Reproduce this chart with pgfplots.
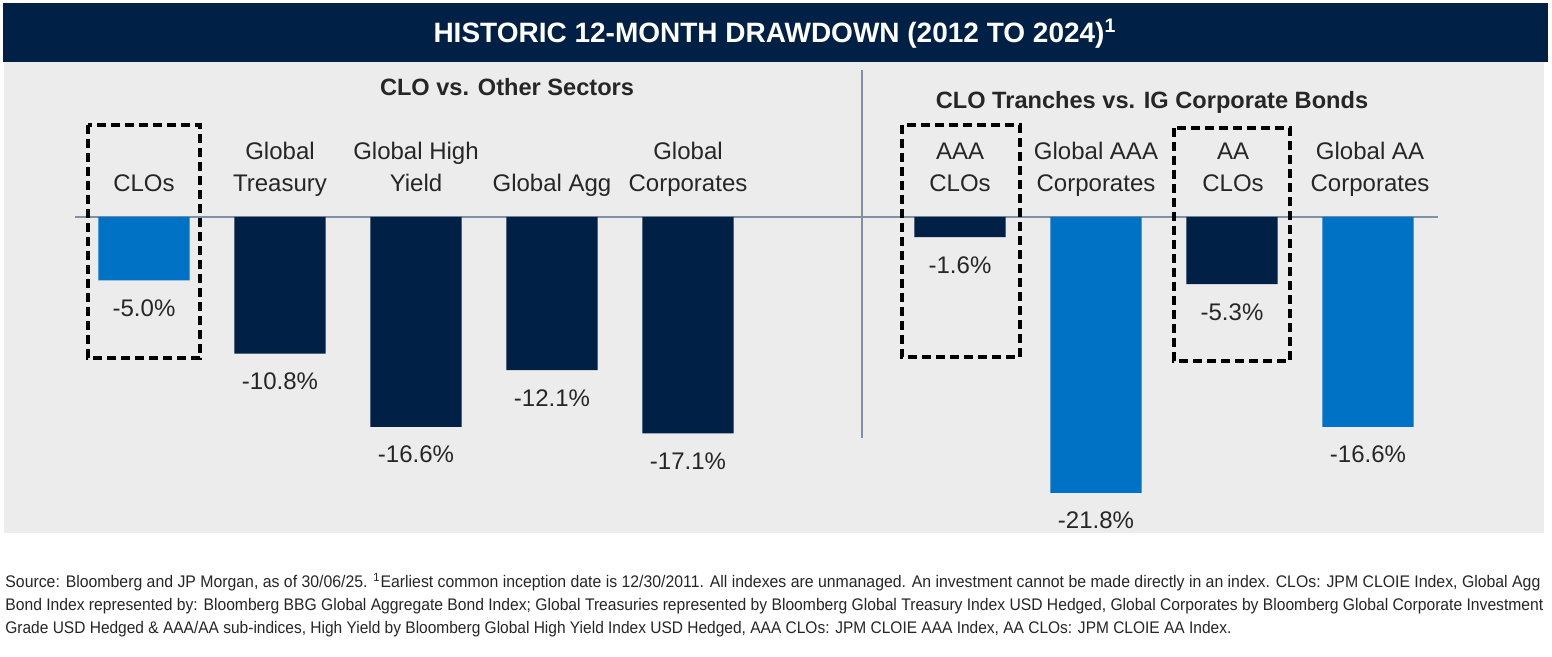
\documentclass[border=0pt]{standalone}
\usepackage{fontspec}
\setmainfont{Liberation Sans}
\usepackage{graphicx}
\usepackage{pgfplots}
\pgfplotsset{compat=1.18}
\definecolor{navy}{RGB}{0,32,70}
\definecolor{clo}{RGB}{0,114,198}
\definecolor{panel}{RGB}{236,236,236}
\definecolor{rulegray}{RGB}{128,145,166}
\definecolor{ink}{RGB}{38,38,38}

\begin{document}
\begin{tikzpicture}
% background, banner, rules (pixel coordinates, origin top left)
\begin{scope}[x=0.5pt,y=-0.5pt]
  \fill[white] (0,0) rectangle (1552,657);
  \fill[panel] (4,62) rectangle (1544,533);
  \fill[navy] (3,3) rectangle (1548,62);
  \draw[rulegray, line width=1.3pt] (862,70) -- (862,438);
  \draw[rulegray, line width=1.3pt] (75,217) -- (1438,217);
\end{scope}

\begin{axis}[
    at={(72pt,-108.5pt)}, anchor=origin,
    x=68pt, y=6.325pt,
    xmin=-0.6, xmax=9.6, ymin=-23, ymax=1,
    hide axis, clip=false,
    ybar, bar width=0.67,
    /pgf/number format/assume math mode=true,
    nodes near coords={\pgfmathprintnumber[fixed,fixed zerofill,precision=1]{\pgfplotspointmeta}\%},
    every node near coord/.append style={anchor=base, yshift=-18pt,
        font=\fontsize{12}{14}\selectfont, text=ink},
  ]
  \addplot[fill=navy, draw=none, bar shift=0pt] coordinates {
    (1,-10.8) (2,-16.6) (3,-12.1) (4,-17.1) (6,-1.6) (8,-5.3)};
  \addplot[fill=clo, draw=none, bar shift=0pt] coordinates {
    (0,-5.0) (7,-21.8) (9,-16.6)};
\end{axis}

\begin{scope}[x=0.5pt,y=-0.5pt]
  % highlight boxes
  \begin{scope}[line width=2pt, dash pattern=on 4.5pt off 2.5pt, black]
    \draw (88,125) rectangle (200,358);
    \draw (902,125) rectangle (1020,357);
    \draw (1174,128) rectangle (1290,361);
  \end{scope}

  % title and panel headings
  \node[anchor=base, text=white, font=\bfseries\fontsize{14}{16}\selectfont]
    at (775,43) {HISTORIC 12-MONTH DRAWDOWN (2012 TO 2024)\textsuperscript{1}};
  \node[anchor=base, text=ink, font=\bfseries\fontsize{11.8}{14}\selectfont]
    at (507,96) {CLO vs. Other Sectors};
  \node[anchor=base, text=ink, font=\bfseries\fontsize{11.8}{14}\selectfont]
    at (1152,109) {CLO Tranches vs. IG Corporate Bonds};

  % category labels
  \begin{scope}[every node/.style={anchor=base, text=ink, font=\fontsize{12}{14}\selectfont}]
    \node at (144,192) {CLOs};
    \node at (280,160) {Global};      \node at (280,192) {Treasury};
    \node at (416,160) {Global High}; \node at (416,192) {Yield};
    \node at (552,192) {Global Agg};
    \node at (688,160) {Global};      \node at (688,192) {Corporates};
    \node at (960,160) {AAA};         \node at (960,192) {CLOs};
    \node at (1096,160) {Global AAA}; \node at (1096,192) {Corporates};
    \node at (1233,160) {AA};         \node at (1233,192) {CLOs};
    \node at (1370,160) {Global AA};  \node at (1370,192) {Corporates};
  \end{scope}

  % footnote
  \begin{scope}[every node/.style={anchor=base west, inner sep=0pt, text=ink, font=\fontsize{8.4}{10}\selectfont}]
    \node at (5,587) {\resizebox{767.5pt}{\height}{Source: Bloomberg and JP Morgan, as of 30/06/25. \textsuperscript{1}Earliest common inception date is 12/30/2011. All indexes are unmanaged. An investment cannot be made directly in an index. CLOs: JPM CLOIE Index, Global Agg}};
    \node at (5,610) {\resizebox{769pt}{\height}{Bond Index represented by: Bloomberg BBG Global Aggregate Bond Index; Global Treasuries represented by Bloomberg Global Treasury Index USD Hedged, Global Corporates by Bloomberg Global Corporate Investment}};
    \node at (5,633) {\resizebox{613pt}{\height}{Grade USD Hedged \& AAA/AA sub-indices, High Yield by Bloomberg Global High Yield Index USD Hedged, AAA CLOs: JPM CLOIE AAA Index, AA CLOs: JPM CLOIE AA Index.}};
  \end{scope}

  \pgfresetboundingbox
  \useasboundingbox (0,0) rectangle (1552,657);
\end{scope}
\end{tikzpicture}
\end{document}
